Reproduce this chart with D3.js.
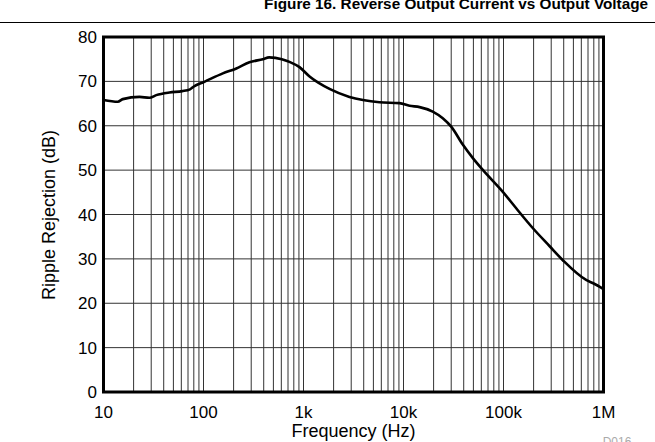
<!DOCTYPE html>
<html>
<head>
<meta charset="utf-8">
<script src="https://cdn.jsdelivr.net/npm/d3@7"></script>
<style>
  body { margin: 0; background: #fff; }
  svg { display: block; font-family: "Liberation Sans", Arial, sans-serif; }
</style>
</head>
<body>
<div id="chart"></div>
<script>
// curve
const freq = [10, 13.9, 15.6, 22.9, 28.8, 33.7, 45.7, 61.2, 73.3, 79.4, 102, 156, 213, 288, 392, 453,
  607, 724, 912, 1150, 1820, 2880, 3930, 5750, 9120, 11500, 14500, 19600, 24700, 30000, 39300,
  49400, 62400, 98500, 134000, 197000, 288000, 392000, 676000, 789000, 1000000];
const ripple = [65.8, 65.4, 66.0, 66.5, 66.3, 66.9, 67.5, 67.8, 68.2, 68.8, 69.9, 71.8, 72.9, 74.3, 75.0, 75.4,
  75.0, 74.4, 73.2, 71.1, 68.3, 66.5, 65.8, 65.3, 65.1, 64.5, 64.2, 63.2, 61.7, 59.8, 55.7,
  52.7, 50.0, 45.1, 41.4, 36.9, 32.9, 29.7, 25.2, 24.5, 23.2];

const xTicks = [10, 100, 1e3, 1e4, 1e5, 1e6];
const xTickLabels = ["10", "100", "1k", "10k", "100k", "1M"];
const yTicks = [0, 10, 20, 30, 40, 50, 60, 70, 80];

const width = 655;
const height = 442;
const margin = { top: 37, right: 51.5, bottom: 50, left: 103.5 };

const svg = d3.select("#chart").append("svg")
  .attr("width", width)
  .attr("height", height);

// title + rule line (title is cut by the top edge in the original)
svg.append("text")
  .attr("x", 648)
  .attr("y", 9)
  .attr("text-anchor", "end")
  .style("font-weight", "bold")
  .style("font-size", "15.3px")
  .text("Figure 16. Reverse Output Current vs Output Voltage");

svg.append("line")
  .attr("x1", 0).attr("x2", width)
  .attr("y1", 22.5).attr("y2", 22.5)
  .attr("stroke", "#000")
  .attr("stroke-width", 1.2);

const x = d3.scaleLog()
  .domain([10, 1e6])
  .range([margin.left, width - margin.right]);

const y = d3.scaleLinear()
  .domain([0, 80])
  .range([height - margin.bottom, margin.top]);

const g = svg.append("g");

// vertical grid: every 1..9 inside each decade
const vLines = x.ticks().filter((d) => d > 10 && d < 1e6);
g.selectAll("line.vgrid")
  .data(vLines)
  .enter()
  .append("line")
  .attr("class", "vgrid")
  .attr("x1", (d) => x(d)).attr("x2", (d) => x(d))
  .attr("y1", y(80)).attr("y2", y(0))
  .attr("stroke", "#333")
  .attr("stroke-width", 1);

g.selectAll("line.hgrid")
  .data(yTicks.slice(1, -1))
  .enter()
  .append("line")
  .attr("class", "hgrid")
  .attr("x1", x(10)).attr("x2", x(1e6))
  .attr("y1", (d) => y(d)).attr("y2", (d) => y(d))
  .attr("stroke", "#333")
  .attr("stroke-width", 1);

// the curve
const line = d3.line()
  .x((d, i) => x(freq[i]))
  .y((d) => y(d))
  .curve(d3.curveMonotoneX);

g.append("path")
  .datum(ripple)
  .attr("fill", "none")
  .attr("stroke", "#000")
  .attr("stroke-width", 2.6)
  .attr("stroke-linejoin", "round")
  .attr("d", line);

// frame
g.append("rect")
  .attr("x", x(10)).attr("y", y(80))
  .attr("width", x(1e6) - x(10))
  .attr("height", y(0) - y(80))
  .attr("fill", "none")
  .attr("stroke", "#000")
  .attr("stroke-width", 3);

// tick labels
svg.selectAll("text.ylab")
  .data(yTicks)
  .enter()
  .append("text")
  .attr("class", "ylab")
  .attr("x", 97)
  .attr("y", (d) => y(d))
  .attr("dy", "0.36em")
  .attr("text-anchor", "end")
  .style("font-size", "17px")
  .text((d) => d);

svg.selectAll("text.xlab")
  .data(xTicks)
  .enter()
  .append("text")
  .attr("class", "xlab")
  .attr("x", (d) => x(d))
  .attr("y", 418)
  .attr("text-anchor", "middle")
  .style("font-size", "17px")
  .text((d, i) => xTickLabels[i]);

// axis titles
svg.append("text")
  .attr("x", (x(10) + x(1e6)) / 2)
  .attr("y", 437)
  .attr("text-anchor", "middle")
  .style("font-size", "18px")
  .text("Frequency (Hz)");

svg.append("text")
  .attr("transform", "translate(55,215) rotate(-90)")
  .attr("text-anchor", "middle")
  .style("font-size", "18px")
  .text("Ripple Rejection (dB)");

// figure id, mostly cut off at the bottom
svg.append("text")
  .attr("x", 617)
  .attr("y", 446)
  .attr("text-anchor", "middle")
  .attr("fill", "#aaa")
  .style("font-size", "12px")
  .text("D016");
</script>
</body>
</html>
